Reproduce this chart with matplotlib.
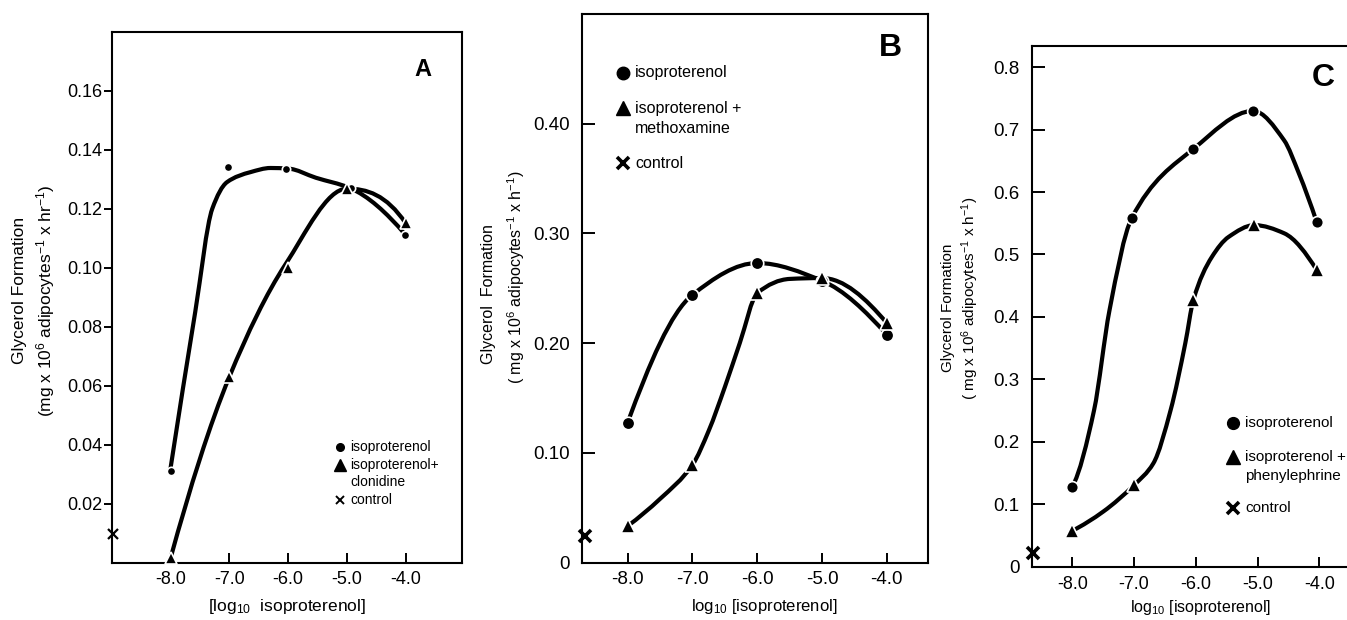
import numpy as np
import matplotlib
matplotlib.use("Agg")
import matplotlib.pyplot as plt
from matplotlib.path import Path
from matplotlib.patches import PathPatch

plt.rcParams['font.family'] = ['Liberation Sans', 'DejaVu Sans']
plt.rcParams['mathtext.fontset'] = 'custom'
plt.rcParams['mathtext.rm'] = 'Liberation Sans'
plt.rcParams['mathtext.it'] = 'Liberation Sans:italic'
plt.rcParams['mathtext.bf'] = 'Liberation Sans:bold'

# ---------------- data ----------------
x_ticks = [-8.0, -7.0, -6.0, -5.0, -4.0]
x_ticklabels = ["-8.0", "-7.0", "-6.0", "-5.0", "-4.0"]

# Panel A
a_iso_x = [-8.0, -7.03, -6.03, -4.93, -4.02]
a_iso_y = [0.031, 0.134, 0.1336, 0.127, 0.111]
a_clo_x = [-8.0, -7.0, -6.0, -5.0, -4.0]
a_clo_y = [0.0015, 0.063, 0.0998, 0.1268, 0.115]
a_ctrl_x = [-8.97]
a_ctrl_y = [0.0097]
a_iso_curve_x = [-8.0, -7.58, -7.29, -7.04, -6.64, -6.3, -6.0, -5.53, -4.95, -4.02]
a_iso_curve_y = [0.032, 0.085, 0.12, 0.129, 0.1324, 0.1338, 0.1336, 0.1305, 0.127, 0.1115]
a_clo_curve_x = [-8.0, -7.0, -6.05, -5.0, -4.0]
a_clo_curve_y = [0.0015, 0.063, 0.101, 0.1268, 0.115]
a_yticks = [0.02, 0.04, 0.06, 0.08, 0.10, 0.12, 0.14, 0.16]
a_yticklabels = ["0.02", "0.04", "0.06", "0.08", "0.10", "0.12", "0.14", "0.16"]

# Panel B
b_iso_x = [-8.0, -7.0, -6.0, -5.0, -4.0]
b_iso_y = [0.1276, 0.244, 0.273, 0.2568, 0.2076]
b_met_x = [-8.0, -7.0, -6.0, -5.0, -4.0]
b_met_y = [0.0333, 0.089, 0.2456, 0.2593, 0.2182]
b_ctrl_x = [-8.66]
b_ctrl_y = [0.0242]
b_iso_curve_x = [-8.0, -7.0, -6.0, -5.0, -4.0]
b_iso_curve_y = [0.1276, 0.244, 0.273, 0.2568, 0.2076]
b_met_curve_x = [-8.0, -7.5, -7.0, -6.75, -6.5, -6.27, -6.0, -5.5, -5.0, -4.0]
b_met_curve_y = [0.0333, 0.058, 0.089, 0.12, 0.16, 0.20, 0.2456, 0.2585, 0.2593, 0.2182]
b_yticks = [0.0, 0.10, 0.20, 0.30, 0.40]
b_yticklabels = ["0", "0.10", "0.20", "0.30", "0.40"]

# Panel C
c_iso_x = [-8.0, -7.04, -6.04, -5.07, -4.04]
c_iso_y = [0.128, 0.558, 0.669, 0.730, 0.5516]
c_phe_x = [-8.0, -7.0, -6.04, -5.05, -4.04]
c_phe_y = [0.0574, 0.1306, 0.427, 0.547, 0.475]
c_ctrl_x = [-8.64]
c_ctrl_y = [0.022]
c_iso_curve_x = [-8.0, -7.65, -7.4, -7.04, -6.04, -5.07, -4.57, -4.33, -4.04]
c_iso_curve_y = [0.128, 0.25, 0.41, 0.558, 0.669, 0.730, 0.683, 0.63, 0.5516]
c_phe_curve_x = [-8.0, -7.5, -7.0, -6.69, -6.41, -6.17, -6.04, -5.74, -5.47, -5.05, -4.57, -4.04]
c_phe_curve_y = [0.0574, 0.088, 0.1306, 0.165, 0.25, 0.358, 0.427, 0.496, 0.528, 0.547, 0.534, 0.475]
c_yticks = [0.0, 0.1, 0.2, 0.3, 0.4, 0.5, 0.6, 0.7, 0.8]
c_yticklabels = ["0", "0.1", "0.2", "0.3", "0.4", "0.5", "0.6", "0.7", "0.8"]

# ---------------- helpers ----------------
W, H = 1347, 620
fig = plt.figure(figsize=(W / 100, H / 100), dpi=100)


def px_axes(left, top, right, bottom):
    return fig.add_axes([left / W, 1 - bottom / H, (right - left) / W, (bottom - top) / H])


def pchip_slopes(x, y):
    n = len(x)
    h = np.diff(x)
    delta = np.diff(y) / h
    d = np.zeros(n)
    for k in range(1, n - 1):
        if delta[k - 1] * delta[k] <= 0:
            d[k] = 0.0
        else:
            w1 = 2 * h[k] + h[k - 1]
            w2 = h[k] + 2 * h[k - 1]
            d[k] = (w1 + w2) / (w1 / delta[k - 1] + w2 / delta[k])

    def end(h0, h1, d0, d1):
        s = ((2 * h0 + h1) * d0 - h0 * d1) / (h0 + h1)
        if np.sign(s) != np.sign(d0):
            s = 0.0
        elif np.sign(d0) != np.sign(d1) and abs(s) > abs(3 * d0):
            s = 3 * d0
        return s

    if n > 2:
        d[0] = end(h[0], h[1], delta[0], delta[1])
        d[-1] = end(h[-1], h[-2], delta[-1], delta[-2])
    else:
        d[:] = delta[0]
    return d


def smooth_path(xs, ys):
    x = np.asarray(xs, float)
    y = np.asarray(ys, float)
    d = pchip_slopes(x, y)
    verts = [(x[0], y[0])]
    codes = [Path.MOVETO]
    for i in range(len(x) - 1):
        hh = x[i + 1] - x[i]
        verts += [(x[i] + hh / 3, y[i] + d[i] * hh / 3),
                  (x[i + 1] - hh / 3, y[i + 1] - d[i + 1] * hh / 3),
                  (x[i + 1], y[i + 1])]
        codes += [Path.CURVE4] * 3
    return Path(verts, codes)


def draw_curve(ax, xs, ys, lw=3.0):
    ax.add_patch(PathPatch(smooth_path(xs, ys), fill=False, lw=lw, ec='black',
                           capstyle='butt', joinstyle='round', zorder=2))


def style_axes(ax, tick_dir_y, ylen, ylabsize, xlabsize, ypad, xpad):
    for s in ax.spines.values():
        s.set_linewidth(1.5)
    ax.tick_params(axis='y', direction=tick_dir_y, length=ylen, width=1.4,
                   labelsize=ylabsize, pad=ypad)
    ax.tick_params(axis='x', direction='in', length=7, width=1.4,
                   labelsize=xlabsize, pad=xpad)


def legend_entry(ax, xm, xt, y, marker, ms, label, size, mew=1.0):
    ax.plot([xm], [y], marker=marker, ms=ms, color='black', mew=mew,
            transform=ax.transAxes, clip_on=False, ls='none')
    ax.text(xt, y, label, transform=ax.transAxes, fontsize=size,
            ha='left', va='center')


# ================= Panel A =================
axA = px_axes(111.7, 31.7, 461.7, 562.7)
axA.set_xlim(-9.0, -3.05)
axA.set_ylim(0, 0.18)
draw_curve(axA, a_iso_curve_x, a_iso_curve_y, lw=3.0)
draw_curve(axA, a_clo_curve_x, a_clo_curve_y, lw=3.0)
axA.plot(a_iso_x, a_iso_y, 'o', ms=6, mfc='black', mec='white', mew=1.2,
         zorder=4, clip_on=False)
axA.plot(a_clo_x, a_clo_y, '^', ms=9, mfc='black', mec='white', mew=1.2,
         zorder=4, clip_on=False)
axA.plot(a_ctrl_x, a_ctrl_y, 'x', ms=7, mew=1.6, color='black', zorder=5, clip_on=False)
axA.set_yticks(a_yticks)
axA.set_yticklabels(a_yticklabels)
axA.set_xticks(x_ticks)
axA.set_xticklabels(x_ticklabels)
style_axes(axA, 'out', 6, 13, 13, 0.5, 6)
axA.text(0.89, 0.928, "A", transform=axA.transAxes, fontsize=17, fontweight='bold',
         ha='center', va='center')
legend_entry(axA, 0.652, 0.681, 0.2185, 'o', 5.5, "isoproterenol", 10)
legend_entry(axA, 0.652, 0.681, 0.184, '^', 8, "isoproterenol+", 10)
axA.text(0.681, 0.1525, "clonidine", transform=axA.transAxes, fontsize=10,
         ha='left', va='center')
legend_entry(axA, 0.652, 0.681, 0.119, 'x', 6, "control", 10, mew=1.4)

fig.text(20 / W, 1 - 290 / H, "Glycerol Formation", rotation=90, fontsize=12.5,
         ha='center', va='center')
fig.text(46 / W, 1 - 301 / H, r"(mg x 10$^{6}$ adipocytes$^{-1}$ x hr$^{-1}$)",
         rotation=90, fontsize=12.5, ha='center', va='center')
fig.text(286.7 / W, 1 - 606.7 / H, r"[log$_{10}$  isoproterenol]", fontsize=12.5,
         ha='center', va='center')

# ================= Panel B =================
axB = px_axes(582.3, 14, 927.7, 562.5)
axB.set_xlim(-8.70, -3.37)
axB.set_ylim(0, 0.5)
draw_curve(axB, b_iso_curve_x, b_iso_curve_y, lw=3.0)
draw_curve(axB, b_met_curve_x, b_met_curve_y, lw=3.0)
axB.plot(b_iso_x, b_iso_y, 'o', ms=9, mfc='black', mec='white', mew=1.2,
         zorder=4, clip_on=False)
axB.plot(b_met_x, b_met_y, '^', ms=10, mfc='black', mec='white', mew=1.2,
         zorder=4, clip_on=False)
axB.plot(b_ctrl_x, b_ctrl_y, 'x', ms=9, mew=2.6, color='black', zorder=5, clip_on=False)
axB.set_yticks(b_yticks)
axB.set_yticklabels(b_yticklabels)
axB.set_xticks(x_ticks)
axB.set_xticklabels(x_ticklabels)
style_axes(axB, 'in', 9, 13.5, 13.5, 9, 6)
axB.text(0.891, 0.9386, "B", transform=axB.transAxes, fontsize=23, fontweight='bold',
         ha='center', va='center')
legend_entry(axB, 0.119, 0.1526, 0.893, 'o', 9, "isoproterenol", 11.5)
legend_entry(axB, 0.119, 0.1526, 0.828, '^', 10, "isoproterenol +", 11.5)
axB.text(0.1526, 0.791, "methoxamine", transform=axB.transAxes, fontsize=11.5,
         ha='left', va='center')
legend_entry(axB, 0.119, 0.1526, 0.728, 'x', 8, "control", 11.5, mew=2.6)

fig.text(488 / W, 1 - 294 / H, "Glycerol  Formation", rotation=90, fontsize=11.5,
         ha='center', va='center')
fig.text(516 / W, 1 - 277 / H, r"( mg x 10$^{6}$ adipocytes$^{-1}$ x h$^{-1}$)",
         rotation=90, fontsize=11.5, ha='center', va='center')
fig.text(764 / W, 1 - 606 / H, r"log$_{10}$ [isoproterenol]", fontsize=12,
         ha='center', va='center')

# ================= Panel C =================
axC = px_axes(1032.3, 46, 1347, 566.5)
axC.set_xlim(-8.65, -3.55)
axC.set_ylim(0, 0.834)
axC.spines['right'].set_visible(False)
draw_curve(axC, c_iso_curve_x, c_iso_curve_y, lw=3.0)
draw_curve(axC, c_phe_curve_x, c_phe_curve_y, lw=3.0)
axC.plot(c_iso_x, c_iso_y, 'o', ms=8.5, mfc='black', mec='white', mew=1.2,
         zorder=4, clip_on=False)
axC.plot(c_phe_x, c_phe_y, '^', ms=10, mfc='black', mec='white', mew=1.2,
         zorder=4, clip_on=False)
axC.plot(c_ctrl_x, c_ctrl_y, 'x', ms=9, mew=2.6, color='black', zorder=5, clip_on=False)
axC.set_yticks(c_yticks)
axC.set_yticklabels(c_yticklabels)
axC.set_xticks(x_ticks)
axC.set_xticklabels(x_ticklabels)
style_axes(axC, 'in', 9, 13.5, 13, 9, 7)
axC.text(0.925, 0.938, "C", transform=axC.transAxes, fontsize=23, fontweight='bold',
         ha='center', va='center')
legend_entry(axC, 0.639, 0.676, 0.275, 'o', 8.5, "isoproterenol", 11)
legend_entry(axC, 0.639, 0.676, 0.211, '^', 10, "isoproterenol +", 11)
axC.text(0.676, 0.174, "phenylephrine", transform=axC.transAxes, fontsize=11,
         ha='left', va='center')
legend_entry(axC, 0.639, 0.676, 0.112, 'x', 8, "control", 11, mew=2.6)

fig.text(948.3 / W, 1 - 308 / H, "Glycerol Formation", rotation=90, fontsize=11,
         ha='center', va='center')
fig.text(970 / W, 1 - 298 / H, r"( mg x 10$^{6}$ adipocytes$^{-1}$ x h$^{-1}$)",
         rotation=90, fontsize=11, ha='center', va='center')
fig.text(1201 / W, 1 - 607.7 / H, r"log$_{10}$ [isoproterenol]", fontsize=11.5,
         ha='center', va='center')

fig.savefig("out.png", dpi=100)
